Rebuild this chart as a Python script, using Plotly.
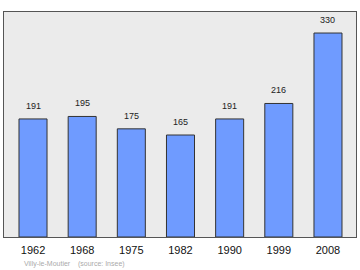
import plotly.graph_objects as go

years = ["1962", "1968", "1975", "1982", "1990", "1999", "2008"]
population = [191, 195, 175, 165, 191, 216, 330]
source_note = "Villy-le-Moutier    (source: Insee)"

x_pos = list(range(len(years)))

fig = go.Figure()
fig.add_trace(go.Bar(
    x=x_pos, y=population, width=0.57,
    marker=dict(color="#6f9bff", line=dict(color="#333333", width=1)),
    hoverinfo="skip",
))
for xp, v in zip(x_pos, population):
    fig.add_annotation(x=xp, y=v, text=str(v), showarrow=False,
                       yanchor="bottom", yshift=6,
                       font=dict(family="Liberation Sans, Arial", size=9, color="#222222"))
fig.update_layout(
    width=360, height=270,
    margin=dict(l=4, r=4, t=12, b=33),
    paper_bgcolor="white", plot_bgcolor="#ebebeb",
    showlegend=False,
    xaxis=dict(range=[-0.59, 6.57], tickmode="array", tickvals=x_pos, ticktext=years,
               showgrid=False, zeroline=False, showline=True, linecolor="#555555",
               linewidth=1, mirror=True, ticks="", ticklabelstandoff=3,
               tickfont=dict(family="Liberation Sans, Arial", size=11, color="#111111")),
    yaxis=dict(range=[0, 364], showgrid=False, zeroline=False, showticklabels=False,
               showline=True, linecolor="#555555", linewidth=1, mirror=True, ticks=""),
)
fig.add_annotation(text=source_note, xref="paper", yref="paper",
                   x=(22 - 4) / 352, y=-(264 - 237) / 225,
                   showarrow=False, xanchor="left", yanchor="middle",
                   font=dict(family="Liberation Sans, Arial", size=7, color="#aaaaaa"))
fig.write_html("out.html")
